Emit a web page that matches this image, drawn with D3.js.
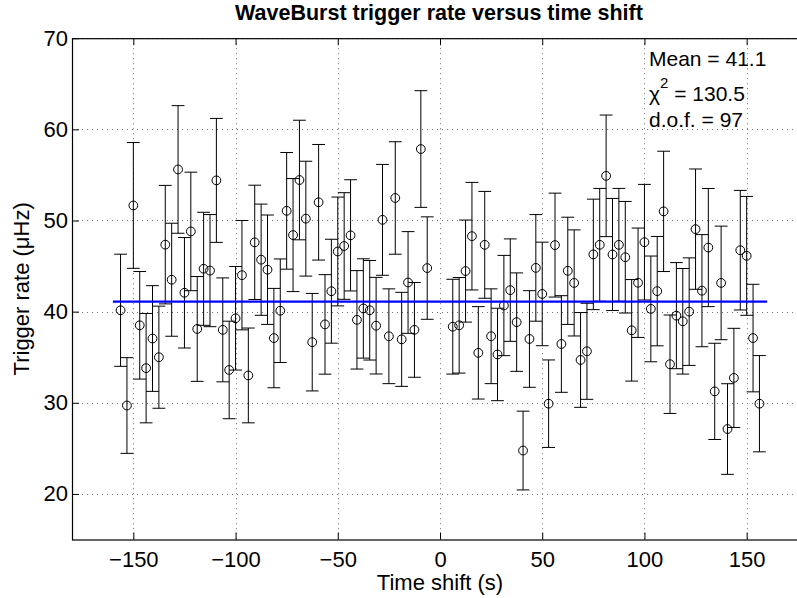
<!DOCTYPE html>
<html>
<head>
<meta charset="utf-8">
<script src="https://cdn.jsdelivr.net/npm/d3@7/dist/d3.min.js"></script>
<style>
  html, body { margin: 0; padding: 0; background: #fff; }
  svg { display: block; }
  text { font-family: "Liberation Sans", Arial, Helvetica, sans-serif; }
</style>
</head>
<body>
<svg id="chart" width="797" height="598"></svg>
<script>
// ---- data ----
const timeShifts = [
  -156.25, -153.125, -150, -146.875, -143.75, -140.625, -137.5, -134.375, -131.25, -128.125,
  -125, -121.875, -118.75, -115.625, -112.5, -109.375, -106.25, -103.125, -100, -96.875,
  -93.75, -90.625, -87.5, -84.375, -81.25, -78.125, -75, -71.875, -68.75, -65.625,
  -62.5, -59.375, -56.25, -53.125, -50, -46.875, -43.75, -40.625, -37.5, -34.375,
  -31.25, -28.125, -25, -21.875, -18.75, -15.625, -12.5, -9.375, -6.25,
  6.25, 9.375, 12.5, 15.625, 18.75, 21.875, 25, 28.125, 31.25, 34.375,
  37.5, 40.625, 43.75, 46.875, 50, 53.125, 56.25, 59.375, 62.5, 65.625,
  68.75, 71.875, 75, 78.125, 81.25, 84.375, 87.5, 90.625, 93.75, 96.875,
  100, 103.125, 106.25, 109.375, 112.5, 115.625, 118.75, 121.875, 125, 128.125,
  131.25, 134.375, 137.5, 140.625, 143.75, 146.875, 150, 153.125, 156.25
];
const triggerRate = [
  40.15, 29.7, 51.65, 38.5, 33.8, 37.05, 35.0, 47.35, 43.5, 55.6,
  42.07, 48.8, 38.1, 44.7, 44.5, 54.4, 38.0, 33.6, 39.27, 44.0,
  33.0, 47.6, 45.7, 44.6, 37.1, 40.1, 51.06, 48.4, 54.44, 50.2,
  36.65, 52.0, 38.6, 42.24, 46.6, 47.2, 48.37, 39.1, 40.35, 40.15,
  38.46, 50.07, 37.3, 52.47, 36.96, 43.2, 38.0, 57.84, 44.78,
  38.35, 38.5, 44.45, 48.28, 35.48, 47.33, 37.3, 35.3, 40.67, 42.36,
  38.85, 24.76, 37.0, 44.8, 41.94, 29.9, 47.3, 36.45, 44.48, 43.15,
  34.7, 35.65, 46.28, 47.33, 54.9, 46.27, 47.33, 45.97, 37.95, 43.17,
  47.62, 40.3, 42.25, 51.0, 34.23, 39.56, 38.94, 40.0, 49.05, 42.3,
  47.03, 31.25, 43.15, 27.12, 32.73, 46.74, 46.12, 37.1, 29.9
];
const rateError = [
  6.15, 5.25, 6.9, 5.9, 6.0, 5.8, 5.6, 6.5, 6.2, 7.0,
  6.06, 6.5, 5.75, 6.2, 6.15, 6.8, 5.7, 5.35, 5.68, 6.0,
  5.2, 6.27, 6.1, 6.0, 5.45, 5.68, 6.4, 6.2, 6.56, 6.3,
  5.35, 6.34, 5.46, 5.7, 5.97, 5.85, 6.1, 5.4, 5.45, 5.46,
  5.3, 6.08, 5.2, 6.17, 5.16, 5.58, 5.2, 6.4, 5.62,
  5.2, 5.24, 5.6, 5.9, 5.07, 5.86, 5.2, 5.07, 5.5, 5.62,
  5.4, 4.32, 5.3, 5.85, 5.68, 4.8, 5.7, 5.3, 5.88, 5.82,
  5.2, 5.27, 6.06, 6.19, 6.67, 6.15, 6.19, 6.12, 5.57, 6.0,
  6.34, 5.8, 6.0, 6.6, 5.4, 5.82, 5.79, 5.9, 6.6, 6.15,
  6.48, 5.28, 6.23, 4.97, 5.44, 6.56, 6.52, 5.9, 5.28
];
const meanRate = 41.1;
const meanLineRange = [-160, 160];
const xTicks = [-150, -100, -50, 0, 50, 100, 150];
const yTicks = [20, 30, 40, 50, 60, 70];
const xDomain = [-180, 180];
const yDomain = [15, 70];
const capHalfWidth = 3.125; // seconds
const statsLines = ["Mean = 41.1", "130.5", "d.o.f. = 97"];

(function () {
// ---- layout ----
const svg = d3.select("#chart");
const pLeft = 72, pRight = 808, pTop = 38.2, pBottom = 539.5;
const x = d3.scaleLinear().domain(xDomain).range([pLeft, pRight]);
const y = d3.scaleLinear().domain(yDomain).range([pBottom, pTop]);

svg.append("rect").attr("width", 797).attr("height", 598).attr("fill", "#fff");

// grid
const grid = svg.append("g").attr("stroke", "#000").attr("stroke-width", 1)
  .attr("stroke-dasharray", "1,4").attr("opacity", 0.55);
grid.selectAll("line.v").data(xTicks).join("line").attr("class", "v")
  .attr("x1", d => Math.round(x(d)) + 0.5).attr("x2", d => Math.round(x(d)) + 0.5)
  .attr("y1", pTop).attr("y2", pBottom);
grid.selectAll("line.h").data(yTicks).join("line").attr("class", "h")
  .attr("y1", d => Math.round(y(d)) + 0.5).attr("y2", d => Math.round(y(d)) + 0.5)
  .attr("x1", pLeft).attr("x2", pRight);

// axes
const fontSize = 22;
const gx = svg.append("g").attr("transform", `translate(0,${pBottom})`)
  .call(d3.axisBottom(x).tickValues(xTicks).tickSizeInner(-7).tickSizeOuter(0).tickPadding(12));
const gxTop = svg.append("g").attr("transform", `translate(0,${pTop})`)
  .call(d3.axisTop(x).tickValues(xTicks).tickSizeInner(-7).tickSizeOuter(0).tickFormat(""));
const gy = svg.append("g").attr("transform", `translate(${pLeft},0)`)
  .call(d3.axisLeft(y).tickValues(yTicks).tickSizeInner(-7).tickSizeOuter(0).tickPadding(4));
[gx, gxTop, gy].forEach(g => {
  g.select(".domain").remove();
  g.selectAll(".tick line").attr("stroke", "#000");
  g.selectAll("text").attr("font-family", "Liberation Sans, Arial, sans-serif")
    .attr("font-size", fontSize).attr("fill", "#000");
});

// frame
svg.append("rect").attr("x", pLeft + 0.5).attr("y", pTop + 0.5)
  .attr("width", pRight - pLeft).attr("height", pBottom - pTop)
  .attr("fill", "none").attr("stroke", "#000").attr("stroke-width", 1.2);

// error bars
const pts = timeShifts.map((t, i) => ({ t, v: triggerRate[i], e: rateError[i] }));
const eb = svg.append("g").attr("stroke", "#000").attr("stroke-width", 1).attr("fill", "none");
eb.selectAll("line.stem").data(pts).join("line").attr("class", "stem")
  .attr("x1", d => x(d.t)).attr("x2", d => x(d.t))
  .attr("y1", d => y(d.v + d.e)).attr("y2", d => y(d.v - d.e));
eb.selectAll("line.capTop").data(pts).join("line").attr("class", "capTop")
  .attr("x1", d => x(d.t - capHalfWidth)).attr("x2", d => x(d.t + capHalfWidth))
  .attr("y1", d => y(d.v + d.e)).attr("y2", d => y(d.v + d.e));
eb.selectAll("line.capBot").data(pts).join("line").attr("class", "capBot")
  .attr("x1", d => x(d.t - capHalfWidth)).attr("x2", d => x(d.t + capHalfWidth))
  .attr("y1", d => y(d.v - d.e)).attr("y2", d => y(d.v - d.e));
eb.selectAll("circle").data(pts).join("circle")
  .attr("cx", d => x(d.t)).attr("cy", d => y(d.v)).attr("r", 4.4);

// mean line
svg.append("line")
  .attr("x1", x(meanLineRange[0])).attr("x2", x(meanLineRange[1]))
  .attr("y1", y(meanRate)).attr("y2", y(meanRate))
  .attr("stroke", "#0000ff").attr("stroke-width", 2.4);

// stats text
const st = svg.append("g").attr("font-size", 21).attr("fill", "#000");
st.append("text").attr("x", 649).attr("y", 66).text(statsLines[0]);
const chi = st.append("text").attr("x", 649).attr("y", 101);
chi.append("tspan").text("\u03C7");
chi.append("tspan").attr("dy", -13).attr("font-size", 15).text("2");
chi.append("tspan").attr("dy", 13).text(" = " + statsLines[1]);
st.append("text").attr("x", 649).attr("y", 127).text(statsLines[2]);

// title & labels
svg.append("text").attr("x", 439).attr("y", 20).attr("text-anchor", "middle")
  .attr("font-size", 21.5).attr("font-weight", "bold")
  .text("WaveBurst trigger rate versus time shift");
svg.append("text").attr("x", 440).attr("y", 590).attr("text-anchor", "middle")
  .attr("font-size", 22).text("Time shift (s)");
svg.append("text").attr("transform", `translate(29,${(pTop + pBottom) / 2}) rotate(-90)`)
  .attr("text-anchor", "middle").attr("font-size", 22).text("Trigger rate (\u03BCHz)");
})();
</script>
</body>
</html>
